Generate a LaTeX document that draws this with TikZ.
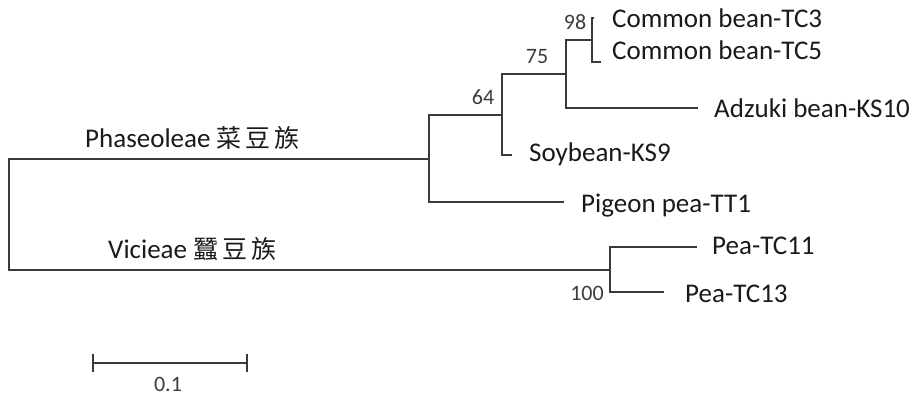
\documentclass[tikz,border=0pt]{standalone}
\usepackage{fontspec}
\setmainfont{Carlito}
\newfontfamily\cjk{Noto Sans CJK TC}
\definecolor{branch}{HTML}{3A3A3A}
\definecolor{txt}{HTML}{1A1A1A}
\begin{document}
\begin{tikzpicture}[x=1pt,y=-1pt,
  br/.style={draw=branch,line width=2.2pt,line cap=rect},
  taxon/.style={anchor=base west,inner sep=0pt,font=\fontsize{27}{30}\selectfont,text=txt},
  boot/.style={anchor=center,inner sep=0pt,font=\fontsize{22}{24}\selectfont,text=txt!85},
  clade/.style={anchor=base west,inner sep=0pt,font=\fontsize{27}{30}\selectfont,text=txt}]
\useasboundingbox (0,0) rectangle (917,397);
% internal nodes
\coordinate (rt) at (9,159);
\coordinate (rb) at (9,270);
\coordinate (P) at (429,159);
\coordinate (Pt) at (429,115);
\coordinate (Pb) at (429,202);
\coordinate (n64) at (502,115);
\coordinate (n64t) at (502,74);
\coordinate (n64b) at (502,155);
\coordinate (n75) at (566,74);
\coordinate (n75t) at (566,40);
\coordinate (n75b) at (566,108);
\coordinate (n98) at (592,40);
\coordinate (n98t) at (592,18);
\coordinate (n98b) at (592,62);
\coordinate (V) at (610,270);
\coordinate (Vt) at (610,247);
\coordinate (Vb) at (610,292);
% tips
\coordinate (tc3) at (593,18);
\coordinate (tc5) at (600,62);
\coordinate (adz) at (697,108);
\coordinate (soy) at (511,155);
\coordinate (pig) at (563,202);
\coordinate (tc11) at (696,247);
\coordinate (tc13) at (663,292);
% branches
\draw[br] (rt) -- (rb);
\draw[br] (rt) -- (P);
\draw[br] (rb) -- (V);
\draw[br] (Pt) -- (Pb);
\draw[br] (Pt) -- (n64);
\draw[br] (Pb) -- (pig);
\draw[br] (n64t) -- (n64b);
\draw[br] (n64b) -- (soy);
\draw[br] (n64t) -- (n75);
\draw[br] (n75t) -- (n75b);
\draw[br] (n75b) -- (adz);
\draw[br] (n75t) -- (n98);
\draw[br] (n98t) -- (n98b);
\draw[br] (n98t) -- (tc3);
\draw[br] (n98b) -- (tc5);
\draw[br] (Vt) -- (Vb);
\draw[br] (Vt) -- (tc11);
\draw[br] (Vb) -- (tc13);
% taxa
\node[taxon] (Ltc3) at (612,27) {Common bean-TC3};
\node[taxon] (Ltc5) at (612,59) {Common bean-TC5};
\node[taxon] (Ladz) at (714,117) {Adzuki bean-KS10};
\node[taxon] (Lsoy) at (529,161) {Soybean-KS9};
\node[taxon] (Lpig) at (581,212) {Pigeon pea-TT1};
\node[taxon] (Ltc11) at (712,254) {Pea-TC11};
\node[taxon] (Ltc13) at (685,302) {Pea-TC13};
% bootstrap
\node[boot] (b98) at (575,22) {98};
\node[boot] (b75) at (537,57) {75};
\node[boot] (b64) at (483,97) {64};
\node[boot] (b100) at (587,293) {100};
% clades
\node[clade] (Cph) at (85,147) {Phaseoleae {\cjk\fontsize{25}{27}\selectfont 菜\,豆\,族}};
\node[clade] (Cvi) at (108,258) {Vicieae {\cjk\fontsize{25}{27}\selectfont 蠶\,豆\,族}};
% scale bar
\coordinate (s1) at (93,363);
\coordinate (s2) at (247,363);
\draw[br,line cap=butt] (s1) -- (s2);
\draw[br,line cap=butt] ([yshift=-9pt]s1) -- ([yshift=9pt]s1);
\draw[br,line cap=butt] ([yshift=-9pt]s2) -- ([yshift=9pt]s2);
\node[boot] (sl) at (168,384) {0.1};
\end{tikzpicture}
\end{document}
